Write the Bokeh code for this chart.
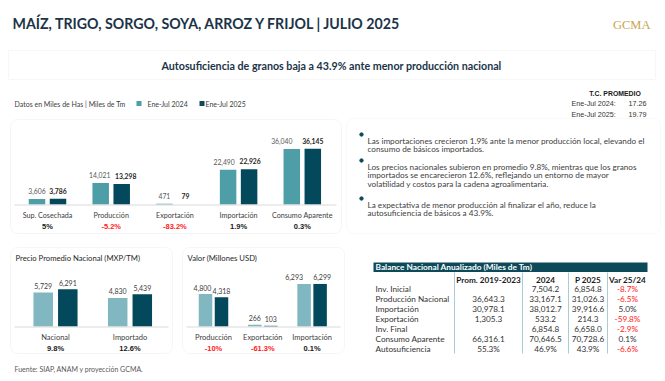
from bokeh.plotting import figure
from bokeh.models import Range1d, BoxAnnotation
from bokeh.core.properties import value
from bokeh.embed import file_html
from bokeh.resources import INLINE

# ---------------- data ----------------
main_cats = ["Sup. Cosechada", "Producción", "Exportación", "Importación", "Consumo Aparente"]
main_2024 = [3606, 14021, 471, 22490, 36040]
main_2025 = [3786, 13298, 79, 22926, 36145]
main_var = ["5%", "-5.2%", "-83.2%", "1.9%", "0.3%"]

price_cats = ["Nacional", "Importado"]
price_2024 = [5729, 4830]
price_2025 = [6291, 5439]
price_var = ["9.8%", "12.6%"]

valor_cats = ["Producción", "Exportación", "Importación"]
valor_2024 = [4800, 266, 6293]
valor_2025 = [4318, 103, 6299]
valor_var = ["-10%", "-61.3%", "0.1%"]

tc_labels = ["Ene-Jul 2024:", "Ene-Jul 2025:"]
tc_values = ["17.26", "19.79"]

table_cols = ["Prom. 2019-2023", "2024", "P 2025", "Var 25/24"]
table_rows = ["Inv. Inicial", "Producción Nacional", "Importación", "Exportación",
              "Inv. Final", "Consumo Aparente", "Autosuficiencia"]
col_prom = ["", "36,643.3", "30,978.1", "1,305.3", "", "66,316.1", "55.3%"]
col_2024 = ["7,504.2", "33,167.1", "38,012.7", "533.2", "6,854.8", "70,646.5", "46.9%"]
col_p2025 = ["6,854.8", "31,026.3", "39,916.6", "214.3", "6,658.0", "70,728.6", "43.9%"]
col_var = ["-8.7%", "-6.5%", "5.0%", "-59.8%", "-2.9%", "0.1%", "-6.6%"]

bullets = [
    ["Las importaciones crecieron 1.9% ante la menor producción local, elevando el",
     "consumo de básicos importados."],
    ["Los precios nacionales subieron en promedio 9.8%, mientras que los granos",
     "importados se encarecieron 12.6%, reflejando un entorno de mayor",
     "volatilidad y costos para la cadena agroalimentaria."],
    ["La expectativa de menor producción al finalizar el año, reduce la",
     "autosuficiencia de básicos a 43.9%."],
]

# ---------------- styling ----------------
C24 = "#4e9ea8"
C24_LIGHT = "#80b7c0"
C25 = "#03495b"
NAVY = "#1b3447"
RED = "#ff1a1a"
FONT = "Lato"
ARIAL = "Liberation Sans"

W, H = 662, 378
X0, Y0 = 0, 0

p = figure(width=W, height=H, x_range=Range1d(X0, X0 + W), y_range=Range1d(Y0 + H, Y0),
           output_backend="svg", toolbar_location=None, min_border=0)
p.axis.visible = False
p.grid.visible = False
p.outline_line_color = None
p.background_fill_color = "white"
p.border_fill_color = "white"

# chart placements (pixel layout -> extra ranges)
layouts = {
    "main": dict(x_first=47, spacing=63.7, base=204, upp=649.0),
    "price": dict(x_first=55, spacing=74.5, base=326, upp=169.0),
    "valor": dict(x_first=213, spacing=49.3, base=326, upp=148.0),
}
xr, yr = {}, {}
for k, L in layouts.items():
    xr[k] = Range1d((X0 - L["x_first"]) / L["spacing"], (X0 + W - L["x_first"]) / L["spacing"])
    yr[k] = Range1d((L["base"] - (Y0 + H)) * L["upp"], (L["base"] - Y0) * L["upp"])
p.extra_x_ranges = xr
p.extra_y_ranges = yr


def txt(x, y, s, size, color="#333333", bold=False, align="left", font=FONT,
        baseline="middle", xname="default", yname="default", y_offset=0):
    p.text(x=[x], y=[y], text=[s], text_font=value(font), text_font_size=f"{size}px",
           text_color=color, text_font_style="bold" if bold else "normal",
           text_align=align, text_baseline=baseline, x_range_name=xname,
           y_range_name=yname, y_offset=y_offset)


def panel(l, t, r, b, color="#e2e2e2", radius=7):
    p.add_layout(BoxAnnotation(left=l, right=r, top=t, bottom=b, fill_color="white",
                               fill_alpha=1.0, line_color=color, line_width=1,
                               border_radius=radius, level="underlay"))


def bar_chart(name, cats, v24, v25, var, off_px, w_px, c24, lab_off, cat_y, var_y,
              bold25, lab_size, cat_size, nudge24=None, nudge25=None):
    L = layouts[name]
    off = off_px / L["spacing"]
    bw = w_px / L["spacing"]
    idx = list(range(len(cats)))
    n24 = nudge24 or [0] * len(idx)
    n25 = nudge25 or [0] * len(idx)
    p.vbar(x=[i - off for i in idx], top=v24, bottom=0, width=bw, fill_color=c24,
           line_color=None, x_range_name=name, y_range_name=name)
    p.vbar(x=[i + off for i in idx], top=v25, bottom=0, width=bw, fill_color=C25,
           line_color=None, x_range_name=name, y_range_name=name)
    p.text(x=[i - off for i in idx], y=v24, text=[f"{v:,}" for v in v24],
           text_font=value(FONT), text_font_size=f"{lab_size}px",
           text_color="#595959" if bold25 else "#404040", text_align="center",
           text_baseline="middle", y_offset=-lab_off, x_offset=n24,
           x_range_name=name, y_range_name=name)
    p.text(x=[i + off for i in idx], y=v25, text=[f"{v:,}" for v in v25],
           text_font=value(FONT), text_font_size=f"{lab_size}px",
           text_font_style="bold" if bold25 else "normal",
           text_color="#262626" if bold25 else "#404040", text_align="center",
           text_baseline="middle", y_offset=-lab_off, x_offset=n25,
           x_range_name=name, y_range_name=name)
    p.text(x=idx, y=[cat_y] * len(idx), text=cats, text_font=value(FONT),
           text_font_size=f"{cat_size}px", text_color="#404040", text_align="center",
           text_baseline="middle", x_range_name=name)
    p.text(x=idx, y=[var_y] * len(idx), text=var, text_font=value(ARIAL),
           text_font_size="7.5px", text_font_style="bold",
           text_color=[RED if s.startswith("-") else "#1a1a1a" for s in var],
           text_align="center", text_baseline="middle", x_range_name=name)


# ---------------- header ----------------
txt(12, 23, "MAÍZ, TRIGO, SORGO, SOYA, ARROZ Y FRIJOL | JULIO 2025", 14.2, NAVY, bold=True)
txt(650, 24, "GCMA", 12.5, "#c9a54e", font="Liberation Serif", align="right")
panel(8, 50, 655, 79, color="#e4e4e4", radius=1)
txt(331, 65, "Autosuficiencia de granos baja a 43.9% ante menor producción nacional", 10.7,
    NAVY, bold=True, align="center")

# legend line
txt(14, 103, "Datos en Miles de Has | Miles de Tm", 7, "#404040")
p.quad(left=[136], right=[141], top=[100.5], bottom=[105.5], fill_color="#47a0ab", line_color=None)
txt(147, 103, "Ene-Jul 2024", 7, "#404040")
p.quad(left=[199], right=[204], top=[100.5], bottom=[105.5], fill_color="#0c4a5a", line_color=None)
txt(205, 103, "Ene-Jul 2025", 7, "#404040")

# T.C. promedio
txt(614.5, 93, "T.C. PROMEDIO", 6.9, "#1a1a1a", bold=True, align="center", font=ARIAL)
for i, (lab, v) in enumerate(zip(tc_labels, tc_values)):
    txt(571, 102.5 + 11 * i, lab, 7.2, "#333333", font=ARIAL)
    txt(646, 102.5 + 11 * i, v, 7.2, "#333333", font=ARIAL, align="right")

# ---------------- panels ----------------
panel(10, 119, 341, 233)
panel(346, 118, 660, 233, color="#ececec")
panel(10, 247, 172, 353)
panel(182, 247, 344, 353)

# ---------------- charts ----------------
bar_chart("main", main_cats, main_2024, main_2025, main_var, off_px=10.5, w_px=16.5,
          c24=C24, lab_off=8, cat_y=214.5, var_y=226, bold25=True, lab_size=6.8, cat_size=7.2,
          nudge24=[0, -1, 0, -4, -10], nudge25=[0, 4, 0, 1, 0])
p.line(x=[14, 336], y=[204.5, 204.5], line_color="#d9d9d9", line_width=1)

txt(15, 257, "Precio Promedio Nacional (MXP/TM)", 7.7, "#262626")
bar_chart("price", price_cats, price_2024, price_2025, price_var, off_px=12.3, w_px=19.5,
          c24=C24_LIGHT, lab_off=6.5, cat_y=337, var_y=348, bold25=False, lab_size=7,
          cat_size=7.5)
p.line(x=[14, 168], y=[326.5, 326.5], line_color="#d9d9d9", line_width=1)

txt(187, 257, "Valor (Millones USD)", 7.7, "#262626")
bar_chart("valor", valor_cats, valor_2024, valor_2025, valor_var, off_px=8, w_px=13.5,
          c24=C24_LIGHT, lab_off=6.5, cat_y=337, var_y=348, bold25=False, lab_size=7,
          cat_size=7.5, nudge24=[-3, 0, -10], nudge25=[0, 0, 2])
p.line(x=[186, 340], y=[326.5, 326.5], line_color="#d9d9d9", line_width=1)

# ---------------- bullet text ----------------
starts = [140, 166, 204]
for b, y0 in zip(bullets, starts):
    p.scatter(x=[361], y=[y0 - 6], size=3.4, color="#0c4a5a", marker="circle")
    for j, line in enumerate(b):
        txt(367, y0 + 8.6 * j, line, 8.2, "#404040")

# ---------------- table ----------------
p.quad(left=[373], right=[647], top=[262], bottom=[271.5], fill_color="#0c4a5a", line_color=None)
txt(375, 266.8, "Balance Nacional Anualizado (Miles de Tm)", 8.3, "white", bold=True)
col_x = [488, 545, 587.5, 627]
for cx, h in zip(col_x, table_cols):
    txt(cx, 279, h, 8.2, "#1a1a1a", bold=True, align="center")
for xv in [454, 522, 568, 607]:
    p.line(x=[xv, xv], y=[272, 353], line_color="#a9cdd4", line_width=1)
for i, lab in enumerate(table_rows):
    y = 288.5 + 10 * i
    txt(375, y, lab, 8.2, "#333333")
    for cx, col in zip(col_x, [col_prom, col_2024, col_p2025]):
        txt(cx, y, col[i], 8.2, "#333333", align="center")
    txt(col_x[3], y, col_var[i], 8.2, RED if col_var[i].startswith("-") else "#333333",
        align="center")

# ---------------- footer ----------------
txt(14, 368, "Fuente: SIAP, ANAM y proyección GCMA.", 7, "#595959")

open("out.html", "w").write(file_html(p, INLINE))
